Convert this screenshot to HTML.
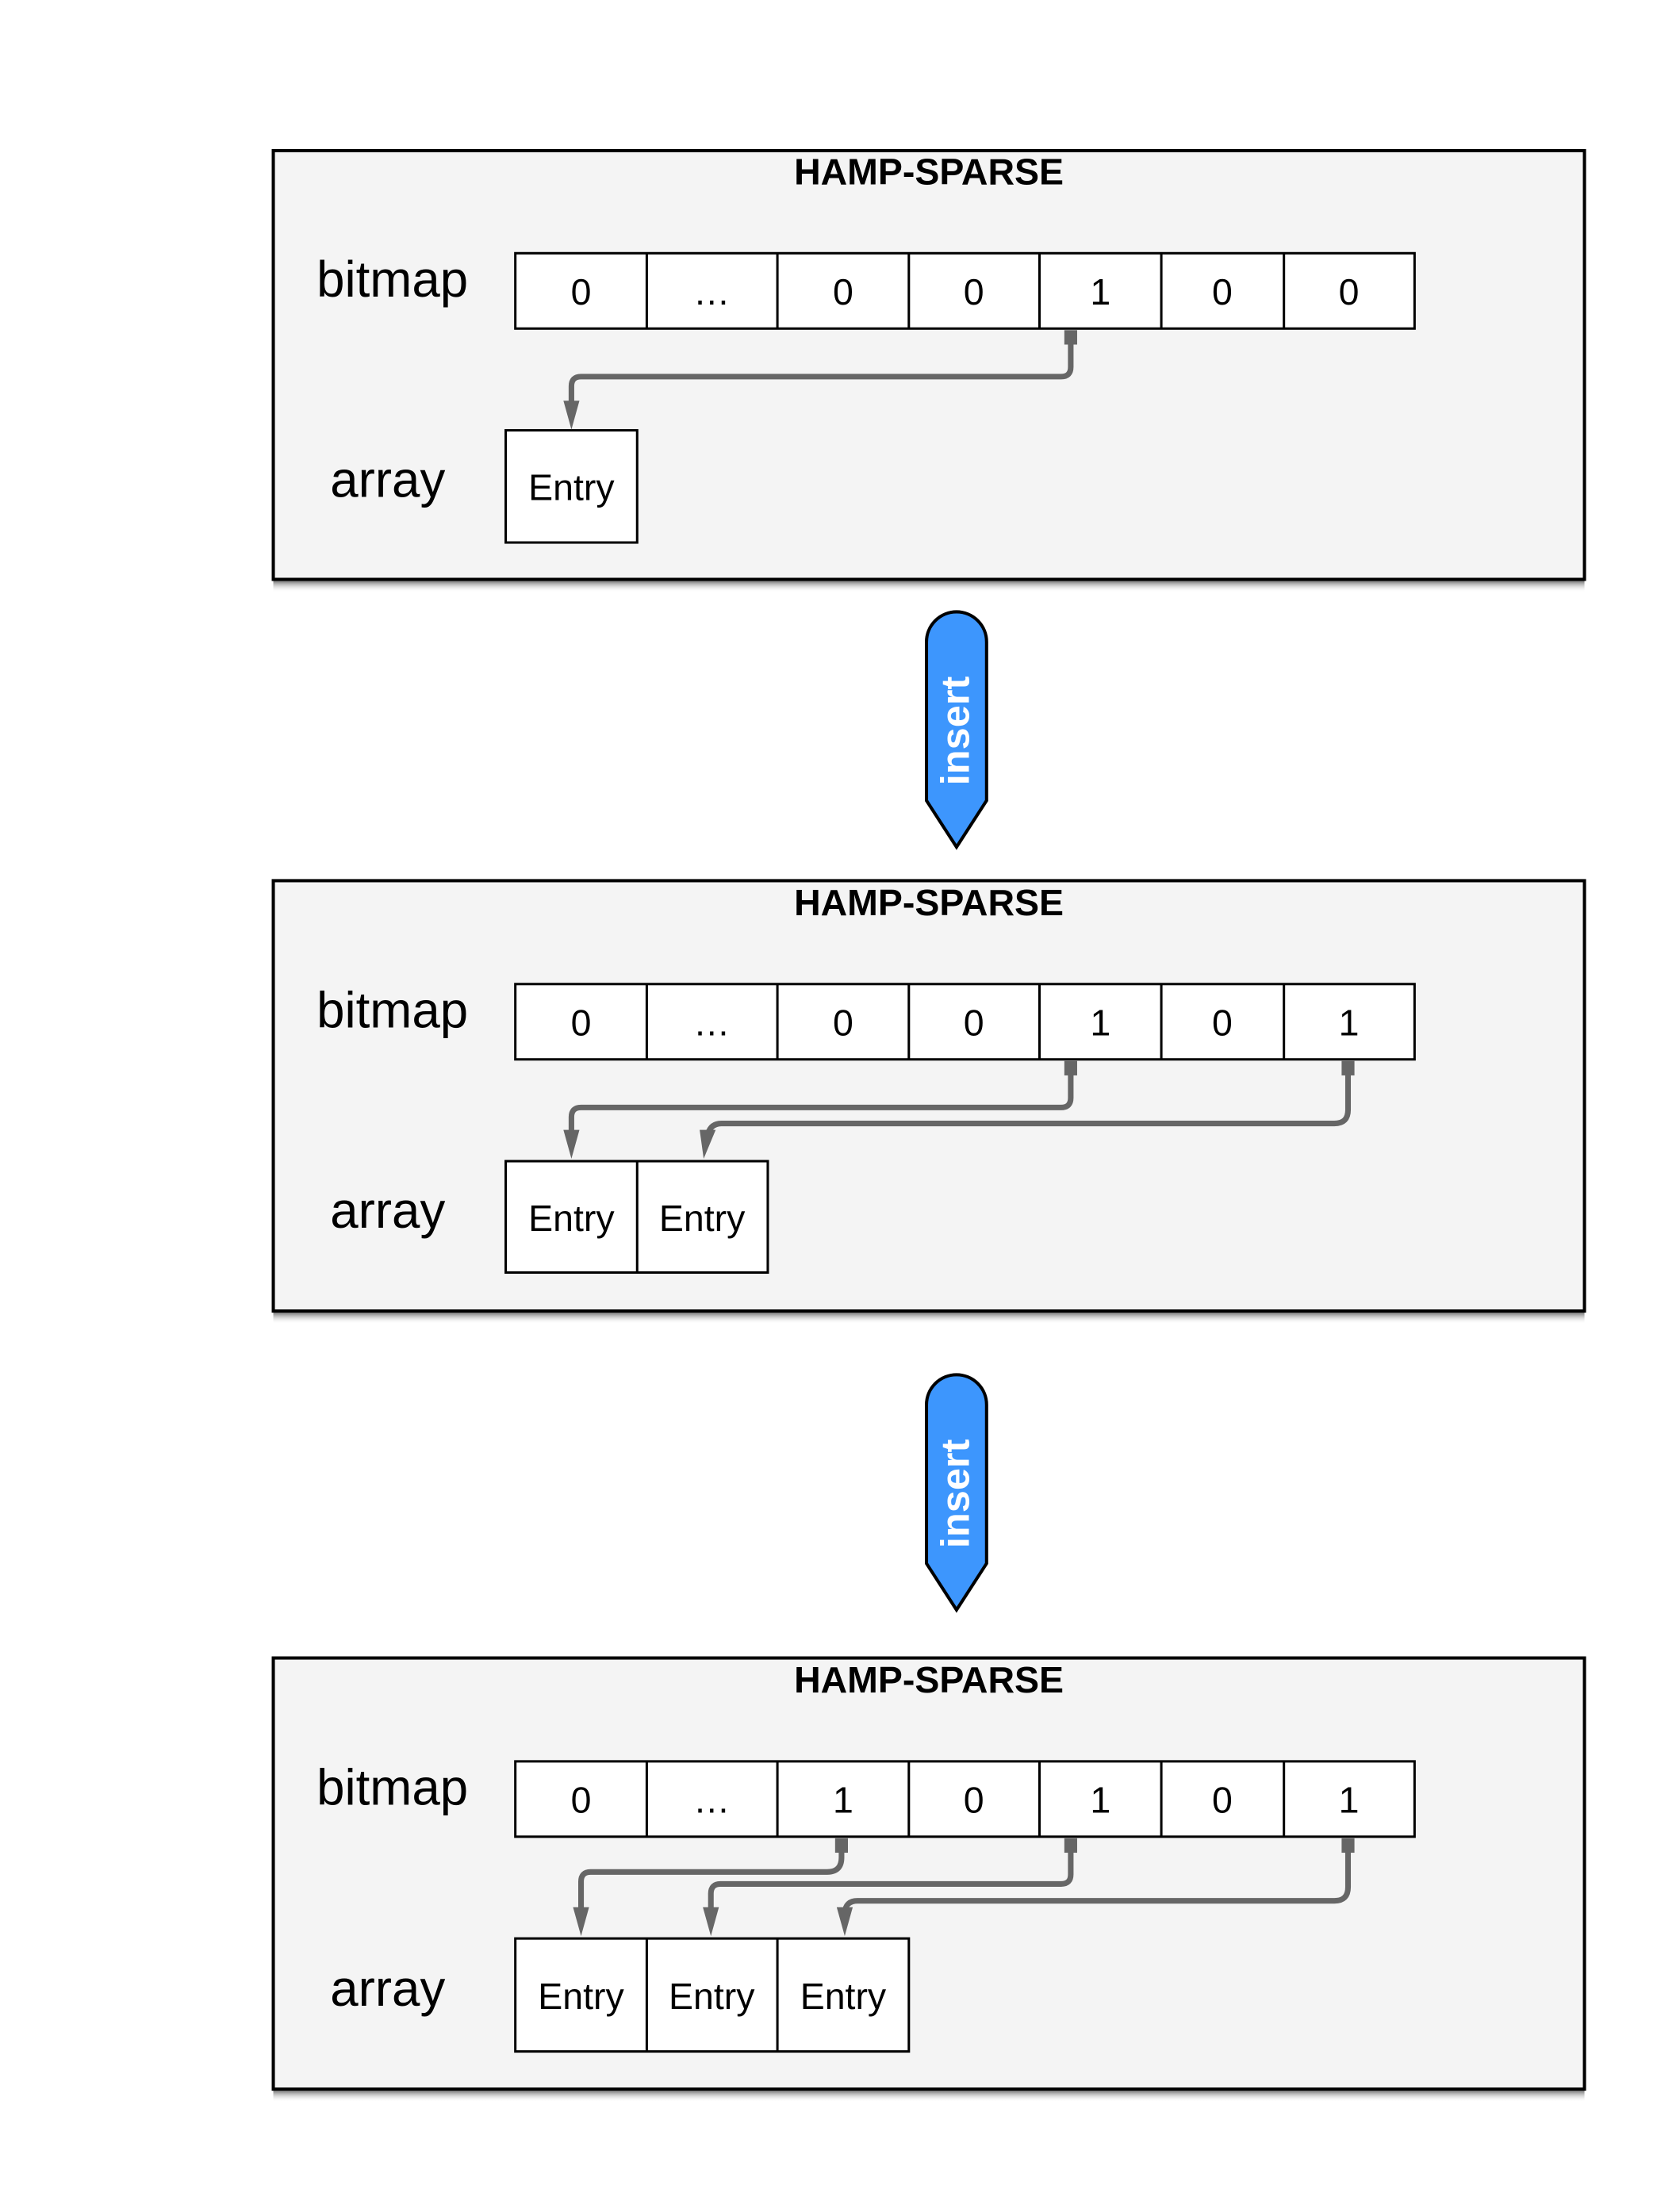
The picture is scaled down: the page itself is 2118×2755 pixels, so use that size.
<!DOCTYPE html>
<html><head><meta charset="utf-8"><style>
html,body{margin:0;padding:0;background:#fff;}
svg{display:block;}
text{font-family:"Liberation Sans",Arial,sans-serif;}
</style></head><body>
<svg width="2118" height="2755" viewBox="0 0 2118 2755" xmlns="http://www.w3.org/2000/svg">
<defs>
<linearGradient id="sh" x1="0" y1="0" x2="0" y2="1"><stop offset="0" stop-color="#777"/><stop offset="1" stop-color="#fff" stop-opacity="0"/></linearGradient>
</defs>
<g transform="scale(1.0104)">
<g id="b1">
<rect x="341" y="725" width="1636" height="14" fill="url(#sh)"/>
<rect x="341" y="188" width="1636" height="535" fill="#f4f4f4" stroke="#000" stroke-width="4"/>
<text x="1159" y="230" font-size="46" font-weight="bold" text-anchor="middle">HAMP-SPARSE</text>
<text x="395" y="370" font-size="63">bitmap</text>
<text x="412" y="620" font-size="63">array</text>
<g stroke="#000" stroke-width="3" fill="#fff">
<rect x="643" y="316" width="1122" height="94"/>
<line x1="807" y1="316" x2="807" y2="410"/><line x1="970" y1="316" x2="970" y2="410"/><line x1="1134" y1="316" x2="1134" y2="410"/><line x1="1297" y1="316" x2="1297" y2="410"/><line x1="1449" y1="316" x2="1449" y2="410"/><line x1="1602" y1="316" x2="1602" y2="410"/>
<rect x="631" y="537" width="164" height="140"/>
</g>
<g font-size="46" text-anchor="middle">
<text x="725" y="380">0</text><text x="888" y="380">…</text><text x="1052" y="380">0</text><text x="1215" y="380">0</text><text x="1373" y="380">1</text><text x="1525" y="380">0</text><text x="1683" y="380">0</text>
<text x="713" y="624">Entry</text>
</g>
<g fill="#666" stroke="none"><rect x="1328" y="412" width="16" height="18"/><polygon points="703,500 723,500 713,536"/></g>
<path d="M1336 428 V458 q0 12 -12 12 H725 q-12 0 -12 12 V505" fill="none" stroke="#666" stroke-width="7"/>
</g>
<g id="b2">
<rect x="341" y="1638" width="1636" height="14" fill="url(#sh)"/>
<rect x="341" y="1099" width="1636" height="537" fill="#f4f4f4" stroke="#000" stroke-width="4"/>
<text x="1159" y="1142" font-size="46" font-weight="bold" text-anchor="middle">HAMP-SPARSE</text>
<text x="395" y="1282" font-size="63">bitmap</text>
<text x="412" y="1532" font-size="63">array</text>
<g stroke="#000" stroke-width="3" fill="#fff">
<rect x="643" y="1228" width="1122" height="94"/>
<line x1="807" y1="1228" x2="807" y2="1322"/><line x1="970" y1="1228" x2="970" y2="1322"/><line x1="1134" y1="1228" x2="1134" y2="1322"/><line x1="1297" y1="1228" x2="1297" y2="1322"/><line x1="1449" y1="1228" x2="1449" y2="1322"/><line x1="1602" y1="1228" x2="1602" y2="1322"/>
<rect x="631" y="1449" width="327" height="139"/><line x1="795" y1="1449" x2="795" y2="1588"/>
</g>
<g font-size="46" text-anchor="middle">
<text x="725" y="1292">0</text><text x="888" y="1292">…</text><text x="1052" y="1292">0</text><text x="1215" y="1292">0</text><text x="1373" y="1292">1</text><text x="1525" y="1292">0</text><text x="1683" y="1292">1</text>
<text x="713" y="1536">Entry</text><text x="876" y="1536">Entry</text>
</g>
<g fill="#666"><rect x="1328" y="1324" width="16" height="18"/><rect x="1674" y="1324" width="16" height="18"/><polygon points="703,1410 723,1410 713,1446"/><polygon points="873,1410 893,1410 878,1446"/></g>
<path d="M1336 1340 V1370 q0 12 -12 12 H725 q-12 0 -12 12 V1415" fill="none" stroke="#666" stroke-width="7"/>
<path d="M1682 1340 V1385 q0 17 -17 17 H900 q-15 0 -18 18" fill="none" stroke="#666" stroke-width="7"/>
</g>
<g id="b3">
<rect x="341" y="2609" width="1636" height="14" fill="url(#sh)"/>
<rect x="341" y="2069" width="1636" height="538" fill="#f4f4f4" stroke="#000" stroke-width="4"/>
<text x="1159" y="2112" font-size="46" font-weight="bold" text-anchor="middle">HAMP-SPARSE</text>
<text x="395" y="2252" font-size="63">bitmap</text>
<text x="412" y="2503" font-size="63">array</text>
<g stroke="#000" stroke-width="3" fill="#fff">
<rect x="643" y="2198" width="1122" height="94"/>
<line x1="807" y1="2198" x2="807" y2="2292"/><line x1="970" y1="2198" x2="970" y2="2292"/><line x1="1134" y1="2198" x2="1134" y2="2292"/><line x1="1297" y1="2198" x2="1297" y2="2292"/><line x1="1449" y1="2198" x2="1449" y2="2292"/><line x1="1602" y1="2198" x2="1602" y2="2292"/>
<rect x="643" y="2419" width="491" height="141"/><line x1="807" y1="2419" x2="807" y2="2560"/><line x1="970" y1="2419" x2="970" y2="2560"/>
</g>
<g font-size="46" text-anchor="middle">
<text x="725" y="2262">0</text><text x="888" y="2262">…</text><text x="1052" y="2262">1</text><text x="1215" y="2262">0</text><text x="1373" y="2262">1</text><text x="1525" y="2262">0</text><text x="1683" y="2262">1</text>
<text x="725" y="2507">Entry</text><text x="888" y="2507">Entry</text><text x="1052" y="2507">Entry</text>
</g>
<g fill="#666"><rect x="1042" y="2294" width="16" height="18"/><rect x="1328" y="2294" width="16" height="18"/><rect x="1674" y="2294" width="16" height="18"/>
<polygon points="715,2380 735,2380 725,2416"/><polygon points="877,2380 897,2380 887,2416"/><polygon points="1044,2380 1064,2380 1054,2416"/></g>
<path d="M1050 2310 V2318 q0 18 -18 18 H737 q-12 0 -12 12 V2385" fill="none" stroke="#666" stroke-width="7"/>
<path d="M1336 2310 V2339 q0 12 -12 12 H899 q-12 0 -12 12 V2385" fill="none" stroke="#666" stroke-width="7"/>
<path d="M1682 2310 V2355 q0 17 -17 17 H1070 q-15 0 -16 15" fill="none" stroke="#666" stroke-width="7"/>
</g>
<g id="ins1">
<path d="M1156 801 A37.5 37.5 0 0 1 1231 801 V999 L1193.5 1057 L1156 999 Z" fill="#3d96fd" stroke="#000" stroke-width="4"/>
<text transform="translate(1209 912) rotate(-90)" font-size="50" font-weight="bold" fill="#fff" text-anchor="middle">insert</text>
</g>
<g id="ins2">
<path d="M1156 1753 A37.5 37.5 0 0 1 1231 1753 V1951 L1193.5 2009 L1156 1951 Z" fill="#3d96fd" stroke="#000" stroke-width="4"/>
<text transform="translate(1209 1864) rotate(-90)" font-size="50" font-weight="bold" fill="#fff" text-anchor="middle">insert</text>
</g>
</g>
</svg>
</body></html>
